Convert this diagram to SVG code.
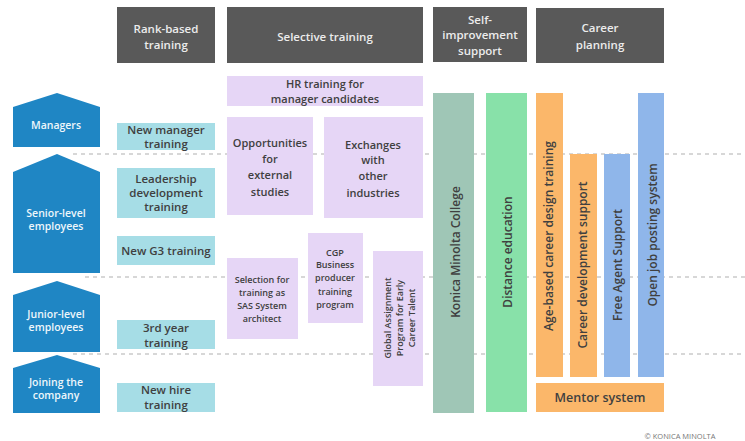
<svg xmlns="http://www.w3.org/2000/svg" width="745" height="441" viewBox="0 0 745 441">
<style>
text{font-family:"Open Sans","Liberation Sans",sans-serif;font-weight:600;text-anchor:middle}
.hd rect{fill:#595959}
.hd text{fill:#ececec;font-size:11.5px}
.lv path{fill:#1f86c4}
.lv text{fill:#eef6fb;font-size:10.5px}
.rk rect{fill:#a6dde6}
.rk text{fill:#404040;font-size:11.5px}
.pu rect{fill:#e6d6f6}
.pu text{fill:#404040;font-size:11px}
.sm text{font-size:9px}
.vt text{fill:#404040;font-size:12px}
.dash{stroke:#b0b0b0;stroke-width:1.2;stroke-dasharray:4 4;fill:none}
</style>
<rect width="745" height="441" fill="#ffffff"/>
<g id="connectors">
<line class="dash" x1="73" y1="154" x2="745" y2="154"/>
<line class="dash" x1="85" y1="277" x2="745" y2="277"/>
<line class="dash" x1="73" y1="354" x2="745" y2="354"/>
</g>
<g id="hdr-rank" class="hd"><rect x="117" y="7" width="98" height="56"/><text x="166" y="33">Rank-based</text><text x="166" y="48.5">training</text></g>
<g id="hdr-selective" class="hd"><rect x="227" y="7" width="196" height="56"/><text x="325" y="41">Selective training</text></g>
<g id="hdr-self" class="hd"><rect x="433" y="7" width="94" height="55"/><text x="480" y="23.5">Self-</text><text x="480" y="39">improvement</text><text x="480" y="54.5">support</text></g>
<g id="hdr-career" class="hd"><rect x="536" y="8" width="128" height="55"/><text x="600" y="32">Career</text><text x="600" y="49">planning</text></g>

<g id="lv-managers" class="lv"><path d="M13,107 L57,93 L100,107 L100,147 L13,147 Z"/><text x="56" y="129">Managers</text></g>
<g id="lv-senior" class="lv"><path d="M13,172 L57,154 L100,172 L100,273 L13,273 Z"/><text x="56" y="217">Senior-level</text><text x="56" y="230">employees</text></g>
<g id="lv-junior" class="lv"><path d="M13,295 L57,281 L100,295 L100,352 L13,352 Z"/><text x="56" y="318">Junior-level</text><text x="56" y="331">employees</text></g>
<g id="lv-joining" class="lv"><path d="M13,368 L57,355 L100,368 L100,413 L13,413 Z"/><text x="56" y="386">Joining the</text><text x="56" y="399">company</text></g>

<g id="rk-newmgr" class="rk"><rect x="117" y="123" width="98" height="27"/><text x="166" y="134">New manager</text><text x="166" y="148">training</text></g>
<g id="rk-leader" class="rk"><rect x="117" y="168" width="98" height="50"/><text x="166" y="183">Leadership</text><text x="166" y="197">development</text><text x="166" y="211">training</text></g>
<g id="rk-g3" class="rk"><rect x="117" y="236" width="98" height="29"/><text x="166" y="255">New G3 training</text></g>
<g id="rk-3rd" class="rk"><rect x="117" y="320" width="98" height="29"/><text x="166" y="332">3rd year</text><text x="166" y="347">training</text></g>
<g id="rk-newhire" class="rk"><rect x="117" y="383" width="98" height="29"/><text x="166" y="394">New hire</text><text x="166" y="409">training</text></g>

<g id="pu-hr" class="pu"><rect x="227" y="76" width="196" height="30"/><text x="325" y="88">HR training for</text><text x="325" y="103">manager candidates</text></g>
<g id="pu-ext" class="pu"><rect x="227" y="117" width="86" height="98"/><text x="270" y="147">Opportunities</text><text x="270" y="163">for</text><text x="270" y="179">external</text><text x="270" y="196">studies</text></g>
<g id="pu-exch" class="pu"><rect x="324" y="117" width="99" height="101"/><text x="373" y="149">Exchanges</text><text x="373" y="164">with</text><text x="373" y="180">other</text><text x="373" y="197">industries</text></g>
<g id="pu-sas" class="pu sm"><rect x="227" y="258" width="71" height="81"/><text x="262" y="283">Selection for</text><text x="262" y="296">training as</text><text x="262" y="309">SAS System</text><text x="262" y="322">architect</text></g>
<g id="pu-cgp" class="pu sm"><rect x="308" y="233" width="55" height="90"/><text x="335" y="256">CGP</text><text x="335" y="268">Business</text><text x="335" y="281">producer</text><text x="335" y="295">training</text><text x="335" y="308">program</text></g>
<g id="pu-global" class="pu sm"><rect x="373" y="251" width="50" height="135"/><g transform="translate(401,318) rotate(-90)"><text x="0" y="-10">Global Assignment</text><text x="0" y="2">Program for Early</text><text x="0" y="14">Career Talent</text></g></g>

<g id="kmc" class="vt"><rect x="433" y="93" width="41" height="320" fill="#9fc6b6"/><text transform="translate(460,252) rotate(-90)">Konica Minolta College</text></g>
<g id="dist" class="vt"><rect x="486" y="93" width="41" height="319" fill="#88e1a9"/><text transform="translate(512,252) rotate(-90)">Distance education</text></g>
<g id="agebased" class="vt"><rect x="536" y="93" width="27" height="284" fill="#fbb76a"/><text transform="translate(553,236) rotate(-90)">Age-based career design training</text></g>
<g id="cdsupport" class="vt"><rect x="570" y="154" width="27" height="223" fill="#fbb76a"/><text transform="translate(587,265) rotate(-90)">Career development support</text></g>
<g id="freeagent" class="vt"><rect x="604" y="154" width="26" height="223" fill="#8fb6ea"/><text transform="translate(622,265) rotate(-90)">Free Agent Support</text></g>
<g id="openjob" class="vt"><rect x="638" y="93" width="26" height="284" fill="#8fb6ea"/><text transform="translate(657,235) rotate(-90)">Open job posting system</text></g>
<g id="mentor" class="vt"><rect x="536" y="383" width="128" height="29" fill="#fbb76a"/><text x="600" y="402" style="font-size:12.5px">Mentor system</text></g>

<text x="680" y="439" style="font-size:7.5px;font-weight:normal;fill:#777">© KONICA MINOLTA</text>
</svg>
